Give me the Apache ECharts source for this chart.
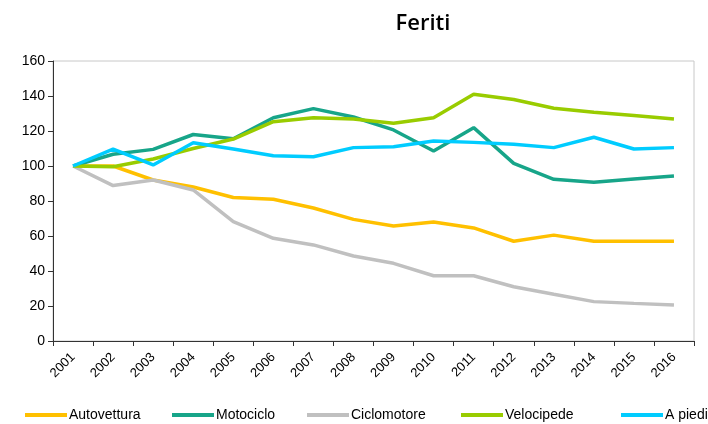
<!DOCTYPE html>
<html>
<head>
<meta charset="utf-8">
<script src="https://cdn.jsdelivr.net/npm/echarts@6/dist/echarts.min.js"></script>
<style>
html, body { margin: 0; padding: 0; background: #fff; }
#chart { width: 708px; height: 424px; }
</style>
</head>
<body>
<div id="chart"></div>
<script>
// anni
var years = ['2001','2002','2003','2004','2005','2006','2007','2008','2009','2010','2011','2012','2013','2014','2015','2016'];
// indici (2001 = 100)
var autovettura = [100, 100, 92, 88, 82, 81, 76, 69.5, 65.7, 68, 64.6, 57, 60.5, 57, 57, 57];
var motociclo   = [100, 106.7, 109.5, 118, 115.6, 127.6, 132.8, 128, 120.6, 108.6, 121.9, 101.5, 92.4, 90.7, 92.6, 94.3];
var ciclomotore = [100, 88.8, 92, 86.3, 68.2, 58.7, 54.9, 48.6, 44.4, 37.3, 37.3, 31, 26.7, 22.5, 21.5, 20.6];
var velocipede  = [100, 99.6, 104, 110, 115.4, 125.3, 127.6, 126.9, 124.4, 127.6, 141, 138, 133, 130.7, 128.8, 126.9];
var apiedi      = [100, 109.7, 100.6, 113.3, 109.7, 105.9, 105.3, 110.5, 111, 114.3, 113.5, 112.4, 110.5, 116.4, 109.7, 110.5];

var names  = ['Autovettura','Motociclo','Ciclomotore','Velocipede','A piedi'];
var values = [autovettura, motociclo, ciclomotore, velocipede, apiedi];
var colors = ['#FFC000','#17A589','#C0C0C0','#99CC00','#00CCFF'];
var legendLeft = [20, 167, 302, 456, 616];

var font = 'Liberation Sans, Arial, sans-serif';

var series = [];
var legends = [];
for (var i = 0; i < names.length; i++) {
	series.push({
		name: names[i],
		type: 'line',
		data: values[i],
		symbol: 'none',
		smooth: false,
		lineStyle: { width: 3.5, color: colors[i] },
		itemStyle: { color: colors[i] }
	});
	legends.push({
		data: [names[i]],
		left: legendLeft[i],
		top: 403,
		icon: 'rect',
		itemWidth: 42,
		itemHeight: 4,
		itemGap: 2,
		textStyle: { fontFamily: font, fontSize: 14, color: '#000', padding: [0, 0, 0, -3] }
	});
}

var chart = echarts.init(document.getElementById('chart'));
chart.setOption({
	animation: false,
	title: {
		text: 'Feriti',
		left: 418,
		textAlign: 'center',
		top: 8,
		textStyle: { fontFamily: 'Open Sans', fontWeight: 600, fontSize: 22, color: '#000' }
	},
	legend: legends,
	grid: {
		left: 53, right: 14, top: 61, bottom: 83,
		show: true,
		borderColor: '#c8c8c8',
		borderWidth: 1
	},
	xAxis: {
		type: 'category',
		data: years,
		boundaryGap: true,
		axisLine: { lineStyle: { color: '#333', width: 1 } },
		axisTick: { show: true, length: 5, lineStyle: { color: '#333' } },
		axisLabel: { rotate: 45, fontFamily: font, fontSize: 13, color: '#000', margin: 14 }
	},
	yAxis: {
		type: 'value',
		min: 0,
		max: 160,
		interval: 20,
		axisLine: { show: true, lineStyle: { color: '#333', width: 1 } },
		axisTick: { show: true, length: 5, lineStyle: { color: '#333' } },
		splitLine: { show: false },
		axisLabel: { fontFamily: font, fontSize: 14, color: '#000', margin: 8 }
	},
	series: series
});
</script>
</body>
</html>
